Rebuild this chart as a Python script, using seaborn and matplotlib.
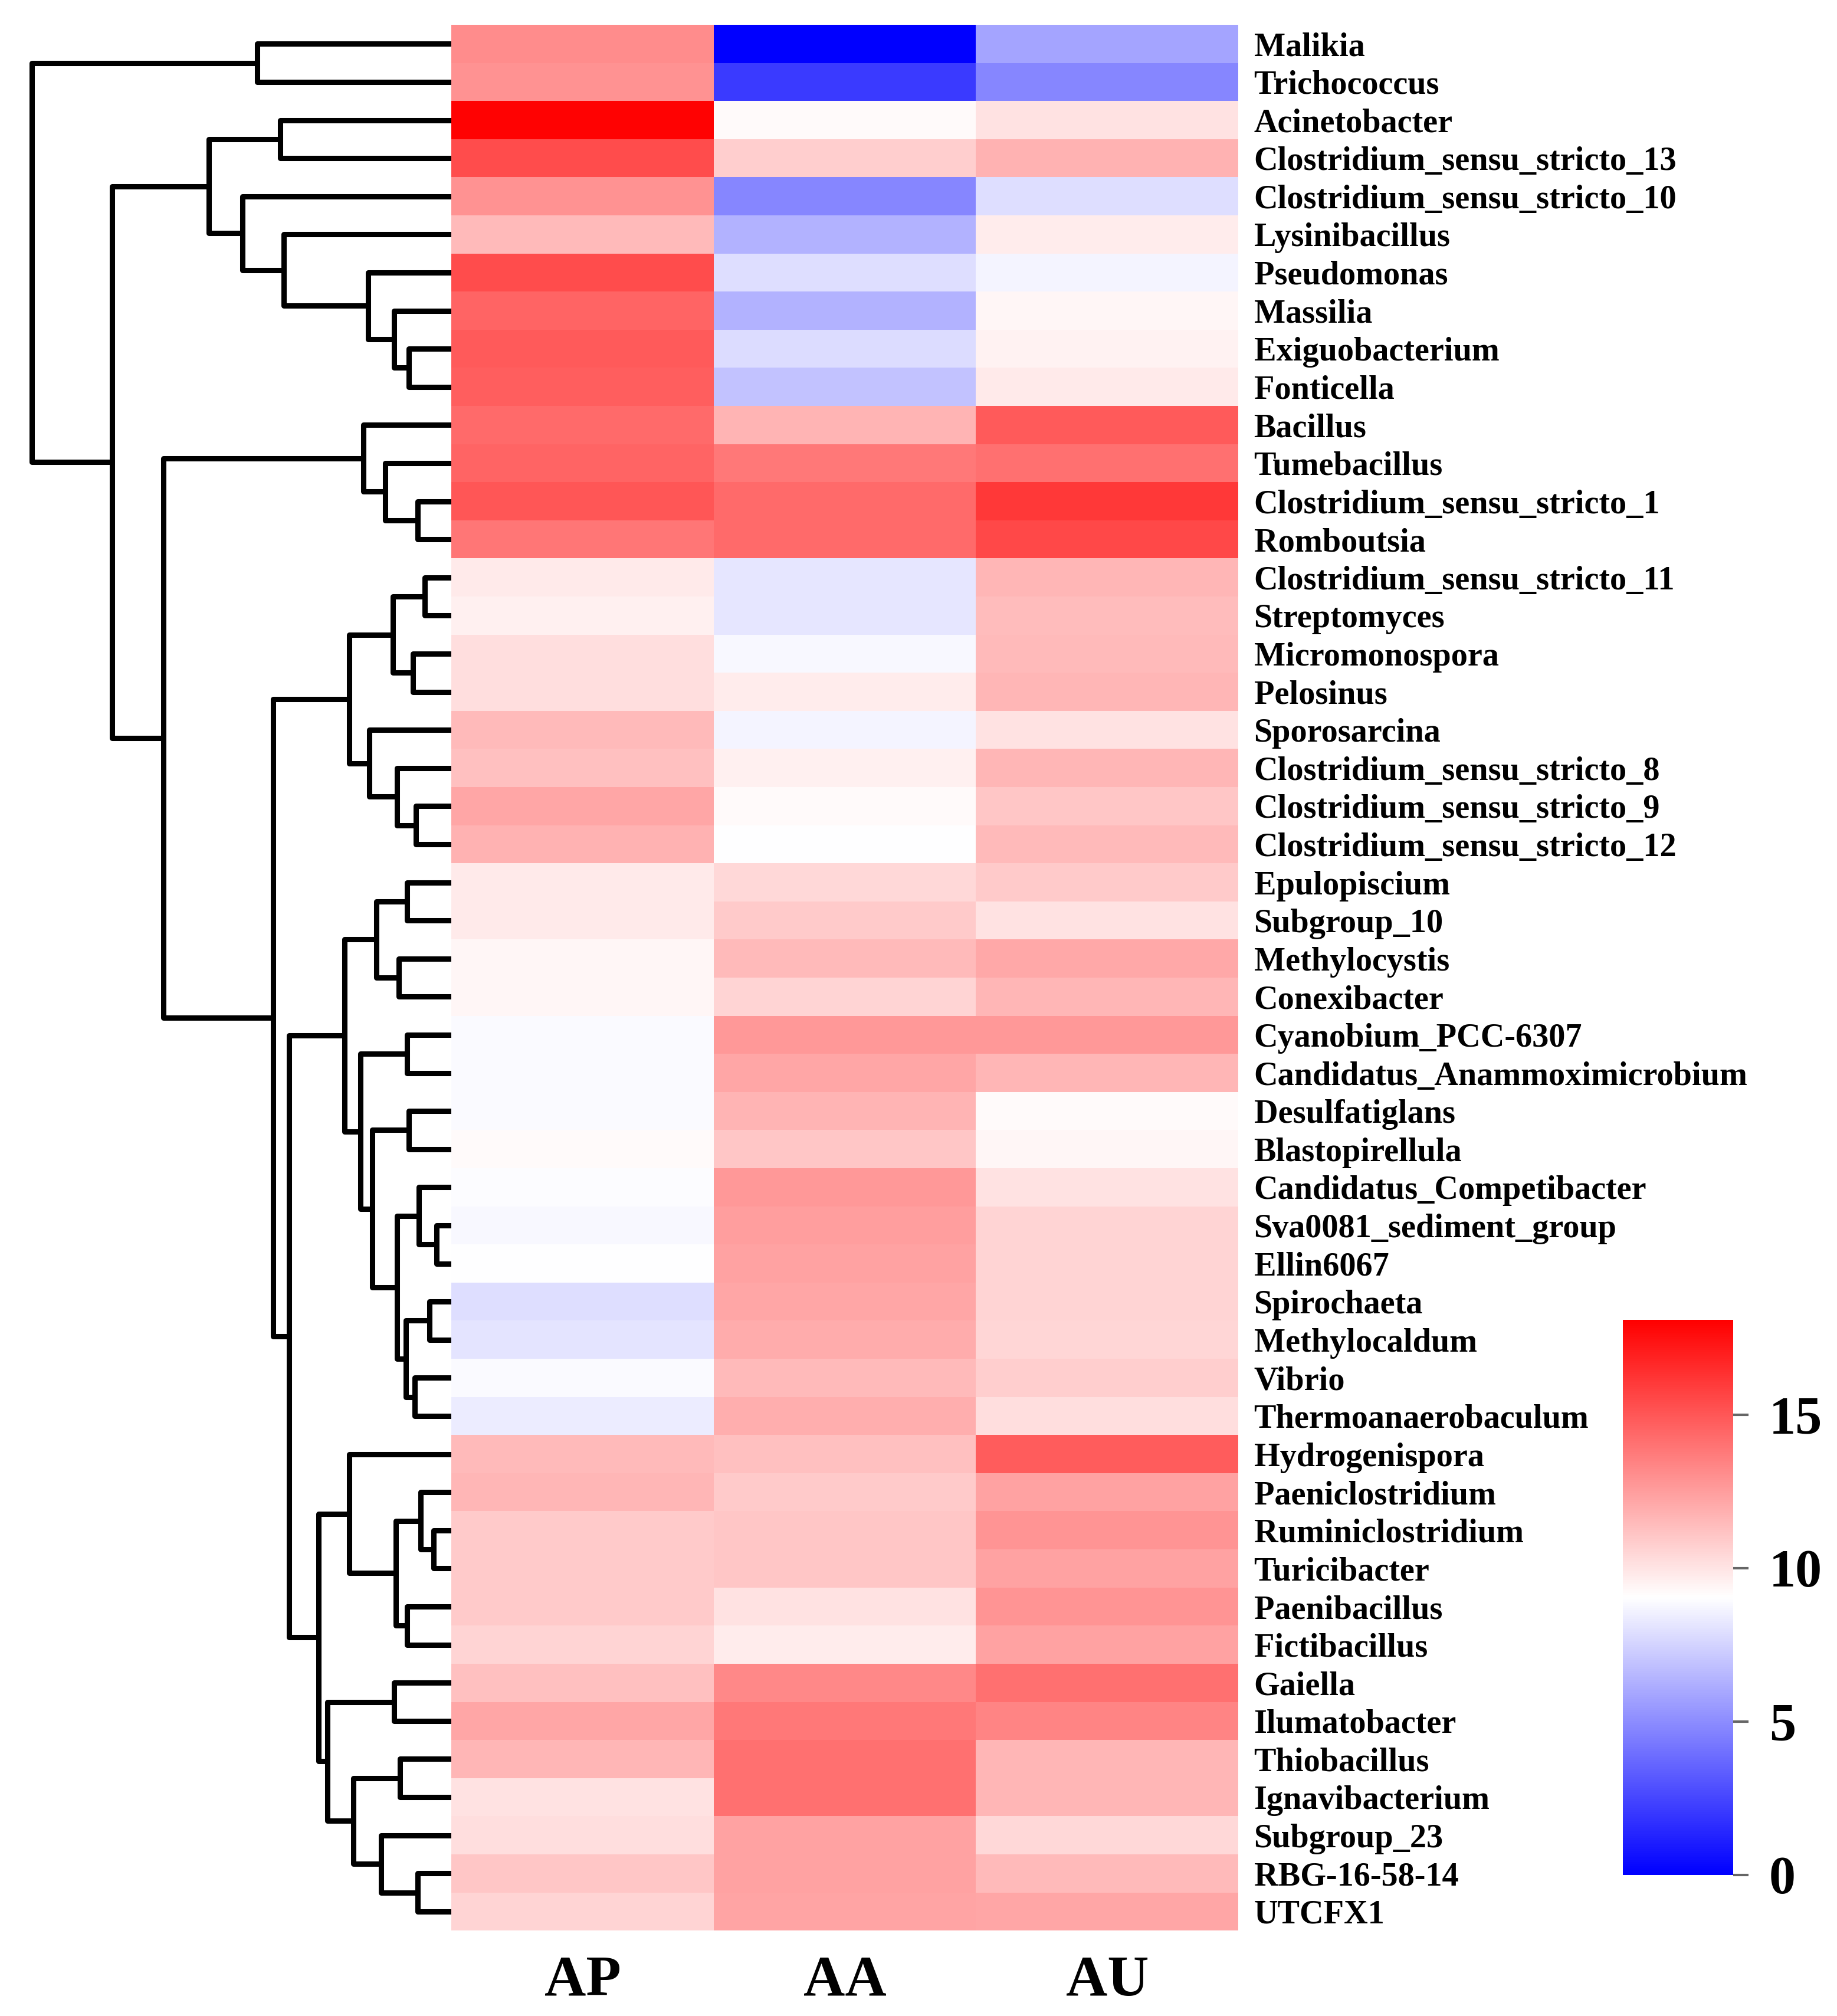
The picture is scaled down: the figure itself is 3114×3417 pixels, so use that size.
import numpy as np
import pandas as pd
import seaborn as sns
import matplotlib.pyplot as plt
from matplotlib.colors import LinearSegmentedColormap

plt.rcParams['font.family'] = 'Liberation Serif'
plt.rcParams['font.weight'] = 'bold'

# genera, top to bottom
genera = [
    "Malikia", "Trichococcus", "Acinetobacter", "Clostridium_sensu_stricto_13",
    "Clostridium_sensu_stricto_10", "Lysinibacillus", "Pseudomonas", "Massilia",
    "Exiguobacterium", "Fonticella", "Bacillus", "Tumebacillus",
    "Clostridium_sensu_stricto_1", "Romboutsia", "Clostridium_sensu_stricto_11",
    "Streptomyces", "Micromonospora", "Pelosinus", "Sporosarcina",
    "Clostridium_sensu_stricto_8", "Clostridium_sensu_stricto_9",
    "Clostridium_sensu_stricto_12", "Epulopiscium", "Subgroup_10", "Methylocystis",
    "Conexibacter", "Cyanobium_PCC-6307", "Candidatus_Anammoximicrobium",
    "Desulfatiglans", "Blastopirellula", "Candidatus_Competibacter",
    "Sva0081_sediment_group", "Ellin6067", "Spirochaeta", "Methylocaldum", "Vibrio",
    "Thermoanaerobaculum", "Hydrogenispora", "Paeniclostridium", "Ruminiclostridium",
    "Turicibacter", "Paenibacillus", "Fictibacillus", "Gaiella", "Ilumatobacter",
    "Thiobacillus", "Ignavibacterium", "Subgroup_23", "RBG-16-58-14", "UTCFX1",
]
samples = ["AP", "AA", "AU"]

AP = [13.1, 12.9, 18.0, 15.4, 12.9, 11.5, 15.4, 14.5, 14.9, 14.75,
      14.3, 14.5, 15.0, 13.9, 9.8, 9.6, 10.2, 10.2, 11.5, 11.3,
      12.2, 11.8, 9.8, 9.8, 9.35, 9.35, 8.9, 8.9, 8.9, 9.2,
      8.95, 8.8, 9.0, 7.9, 8.1, 8.9, 8.4, 11.5, 11.65, 10.95,
      10.95, 10.95, 10.6, 11.3, 12.2, 11.65, 10.05, 10.25, 11.1, 10.6]
AA = [0.05, 2.1, 9.2, 10.8, 4.8, 6.35, 7.9, 6.35, 7.8, 6.9,
      11.7, 13.8, 14.3, 14.3, 8.2, 8.2, 8.8, 9.7, 8.65, 9.6,
      9.25, 9.0, 10.4, 10.95, 11.5, 10.6, 12.7, 12.2, 11.7, 11.1,
      12.7, 12.5, 12.35, 12.2, 12.0, 11.5, 11.9, 11.3, 10.95, 11.1,
      11.1, 10.05, 9.7, 13.25, 13.8, 14.1, 14.1, 12.35, 12.35, 12.3]
AU = [5.8, 4.8, 10.1, 11.8, 7.9, 9.7, 8.65, 9.35, 9.5, 9.8,
      14.9, 14.1, 16.05, 15.5, 11.65, 11.4, 11.5, 11.65, 10.05, 11.65,
      11.1, 11.5, 10.95, 10.05, 12.1, 11.65, 12.7, 11.6, 9.2, 9.35,
      10.05, 10.6, 10.6, 10.6, 10.5, 10.8, 10.25, 14.8, 12.35, 12.8,
      12.35, 12.8, 12.35, 14.1, 13.4, 11.65, 11.6, 10.4, 11.5, 12.2]

# row tree: (name, upper child, lower child, height)
# ints are row numbers, strings are earlier merges
merges = [
    ("a", 0, 1, 9.26), ("b", 2, 3, 8.16), ("c", 8, 9, 2.02), ("d", 7, "c", 2.72),
    ("e", 6, "d", 3.98), ("f", 5, "e", 8.0), ("g", 4, "f", 9.96), ("h", "b", "g", 11.56),
    ("i", 12, 13, 1.6), ("j", 11, "i", 3.14), ("k", 10, "j", 4.18),
    ("l", 14, 15, 1.26), ("m", 16, 17, 1.82), ("n", "l", "m", 2.78), ("o", 20, 21, 1.68),
    ("p", 19, "o", 2.58), ("q", 18, "p", 3.9), ("r", "n", "q", 4.88),
    ("s", 22, 23, 2.1), ("t", 24, 25, 2.5), ("u", "s", "t", 3.56), ("v", 26, 27, 2.1),
    ("w", 28, 29, 2.02), ("x", 31, 32, 0.7), ("y", 30, "x", 1.54), ("z", 33, 34, 1.04),
    ("aa", 35, 36, 1.74), ("ab", "z", "aa", 2.16), ("ac", "y", "ab", 2.58),
    ("ad", "w", "ac", 3.76), ("ae", "v", "ad", 4.32), ("af", "u", "ae", 5.08),
    ("ag", 39, 40, 0.84), ("ah", 38, "ag", 1.46), ("ai", 41, 42, 2.1), ("aj", "ah", "ai", 2.64),
    ("ak", 37, "aj", 4.88), ("al", 43, 44, 2.72), ("am", 45, 46, 2.44), ("an", 48, 49, 1.6),
    ("ao", 47, "an", 3.34), ("ap", "am", "ao", 4.66), ("aq", "al", "ap", 5.92),
    ("ar", "ak", "aq", 6.34), ("as", "af", "ar", 7.74), ("at", "r", "as", 8.5),
    ("au", "k", "at", 13.72), ("av", "h", "au", 16.16), ("aw", "a", "av", 20.0),
]

df = pd.DataFrame({"AP": AP, "AA": AA, "AU": AU}, index=genera)[samples]

# build a scipy style linkage matrix from the merges
n = len(genera)
node_id, node_size, rows = {}, {}, []
for k, (name, left, right, height) in enumerate(merges):
    ids = [c if isinstance(c, int) else node_id[c] for c in (left, right)]
    size = sum(1 if isinstance(c, int) else node_size[c] for c in (left, right))
    node_id[name] = n + k
    node_size[name] = size
    rows.append([ids[0], ids[1], height, size])
row_link = np.array(rows, dtype=float)

cmap = LinearSegmentedColormap.from_list("bwr_pure", ["#0000FF", "#FFFFFF", "#FF0000"])

g = sns.clustermap(
    df, row_linkage=row_link, col_cluster=False, cmap=cmap, vmin=0, vmax=18.1,
    figsize=(31.14, 34.17), yticklabels=True, xticklabels=True,
    tree_kws={"linewidths": 6.5, "colors": "black"},
    cbar_kws={"ticks": [0, 5, 10, 15]},
)

g.ax_col_dendrogram.set_visible(False)
g.ax_heatmap.set_position([0.2457, 0.0424, 0.4284, 0.9453])
g.ax_row_dendrogram.set_position([0.0058, 0.0424, 0.2399, 0.9453])
g.ax_cbar.set_position([0.8834, 0.07, 0.06, 0.2754])

hm = g.ax_heatmap
hm.set_xlabel("")
hm.set_ylabel("")
hm.tick_params(axis="y", length=0, pad=19, labelsize=40.5)
hm.tick_params(axis="x", length=0, pad=30, labelsize=70, labelrotation=0)

g.ax_cbar.tick_params(length=19, width=3, color="#666666", pad=25, labelsize=65)

g.figure.savefig("out.png", dpi=100)
